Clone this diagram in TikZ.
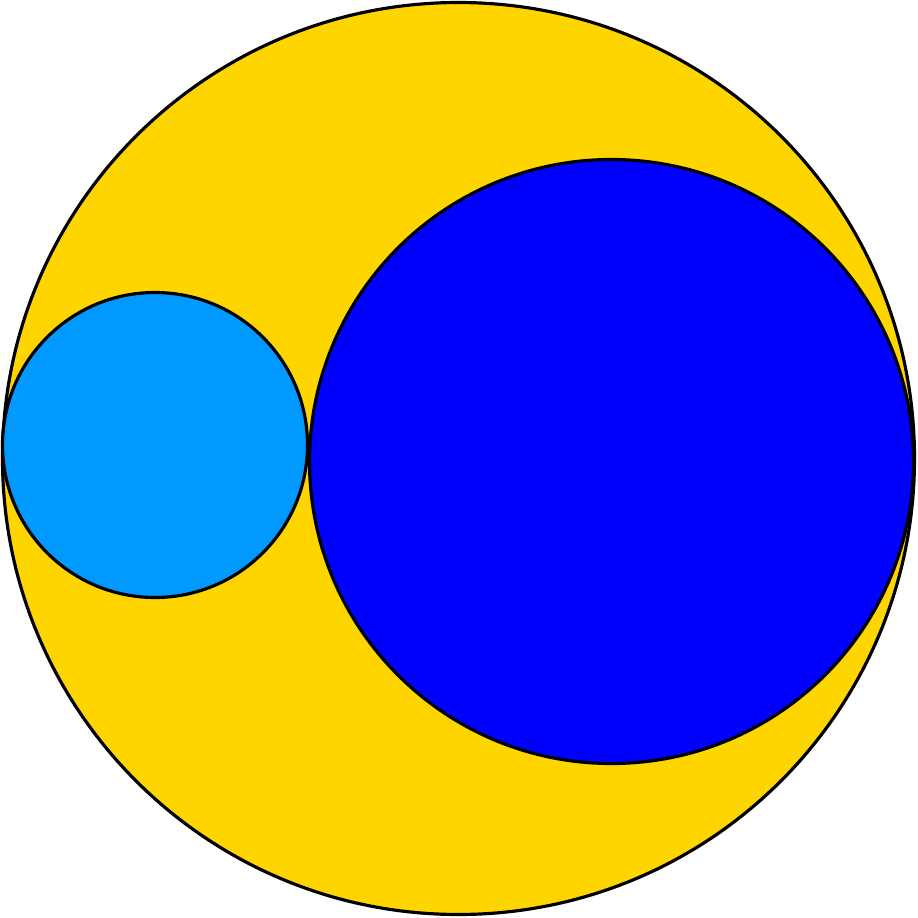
\documentclass[tikz,border=0pt]{standalone}
\usepackage{tikz}
\definecolor{discgold}{RGB}{255,213,0}
\definecolor{discsky}{RGB}{0,153,255}
\definecolor{discblue}{RGB}{0,0,255}
\tikzset{disc/.style={draw=black,line width=0.9pt}}

\begin{document}
\begin{tikzpicture}
  \useasboundingbox (0,0) rectangle (9.18,9.17);
  \filldraw[disc,fill=discgold] (4.585,4.585) circle (4.56);
  \filldraw[disc,fill=discsky] (1.55,4.72) circle (1.525);
  \filldraw[disc,fill=discblue] (6.115,4.555) circle (3.02);
\end{tikzpicture}
\end{document}
